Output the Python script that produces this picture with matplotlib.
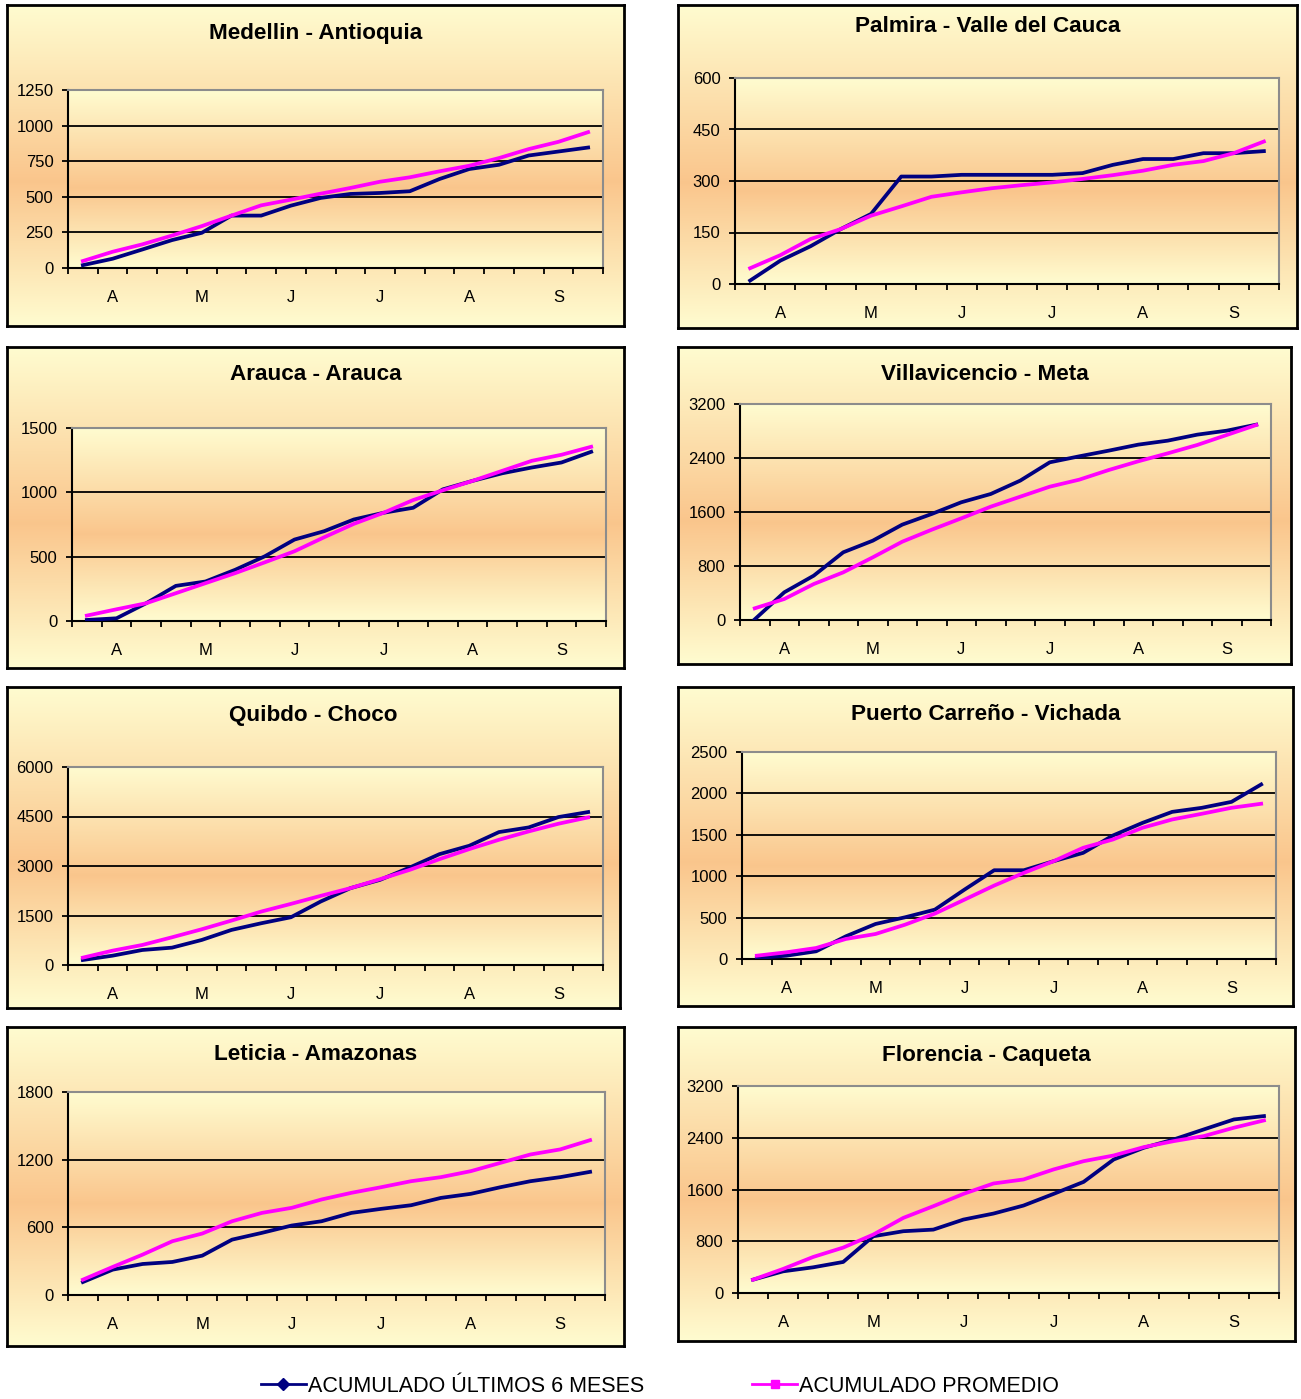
"""Acumulado ultimos 6 meses vs acumulado promedio - 8 municipios.

Grid of 8 Excel-style line charts, two series each, shared legend at the bottom.
"""

import matplotlib

matplotlib.use("Agg")

import matplotlib.pyplot as plt
import numpy as np
from matplotlib.lines import Line2D

plt.rcParams["font.family"] = ["Liberation Sans", "DejaVu Sans"]

# ---- data ----
MONTHS = ["A", "M", "J", "J", "A", "S"]
N_PERIODS = 18

medellin_ult = [20, 65, 130, 196, 247, 368, 368, 438, 492, 520, 527, 539, 625, 695, 725, 790, 818, 846]
medellin_prom = [49, 114, 166, 228, 294, 368, 440, 480, 522, 562, 606, 637, 679, 718, 772, 835, 886, 954]

palmira_ult = [10, 68, 110, 160, 204, 313, 313, 318, 318, 318, 318, 323, 347, 364, 364, 381, 381, 387]
palmira_prom = [46, 84, 131, 160, 199, 226, 254, 267, 279, 288, 296, 306, 317, 330, 347, 358, 381, 415]

arauca_ult = [8, 21, 138, 273, 307, 398, 503, 633, 698, 789, 841, 880, 1023, 1089, 1148, 1193, 1232, 1315]
arauca_prom = [42, 91, 138, 216, 294, 372, 456, 542, 651, 755, 841, 940, 1016, 1089, 1167, 1245, 1292, 1354]

villavicencio_ult = [10, 410, 657, 1003, 1175, 1413, 1571, 1744, 1867, 2065, 2336, 2425, 2509, 2598, 2657, 2746, 2805, 2894]
villavicencio_prom = [173, 311, 533, 706, 928, 1160, 1338, 1506, 1679, 1827, 1975, 2079, 2222, 2351, 2469, 2593, 2741, 2889]

quibdo_ult = [152, 283, 455, 526, 759, 1063, 1265, 1447, 1923, 2328, 2581, 2955, 3360, 3613, 4028, 4169, 4483, 4635]
quibdo_prom = [223, 435, 607, 840, 1083, 1346, 1619, 1852, 2095, 2328, 2601, 2884, 3208, 3512, 3795, 4048, 4281, 4473]

carreno_ult = [12, 40, 93, 274, 423, 504, 596, 838, 1072, 1072, 1181, 1282, 1491, 1644, 1777, 1826, 1898, 2108]
carreno_prom = [40, 81, 133, 242, 302, 415, 548, 717, 887, 1040, 1181, 1343, 1443, 1585, 1685, 1754, 1826, 1875]

leticia_ult = [115, 225, 275, 293, 349, 491, 551, 616, 654, 728, 764, 796, 861, 897, 956, 1009, 1045, 1092]
leticia_prom = [136, 249, 358, 477, 545, 654, 728, 773, 847, 906, 956, 1009, 1045, 1098, 1172, 1246, 1291, 1373]

florencia_ult = [206, 335, 397, 480, 877, 955, 980, 1135, 1228, 1352, 1532, 1718, 2064, 2245, 2374, 2529, 2683, 2735]
florencia_prom = [206, 372, 557, 702, 903, 1161, 1342, 1532, 1693, 1755, 1910, 2038, 2126, 2255, 2348, 2426, 2555, 2668]

TITLES = [
    "Medellin - Antioquia", "Palmira - Valle del Cauca",
    "Arauca - Arauca", "Villavicencio - Meta",
    "Quibdo - Choco", "Puerto Carreño - Vichada",
    "Leticia - Amazonas", "Florencia - Caqueta",
]
SERIES_ULT = [medellin_ult, palmira_ult, arauca_ult, villavicencio_ult,
              quibdo_ult, carreno_ult, leticia_ult, florencia_ult]
SERIES_PROM = [medellin_prom, palmira_prom, arauca_prom, villavicencio_prom,
               quibdo_prom, carreno_prom, leticia_prom, florencia_prom]
Y_MAX = [1250, 600, 1500, 3200, 6000, 2500, 1800, 3200]
Y_STEP = [250, 150, 500, 800, 1500, 500, 600, 800]

LABELS = ["ACUMULADO ÚLTIMOS 6 MESES", "ACUMULADO PROMEDIO"]

# ---- layout (pixels in a 1301 x 1399 canvas) ----
W, H = 1301, 1399
BOX_PX = [
    (7, 5, 624, 326), (678, 5, 1297, 328),
    (7, 347, 624, 668), (678, 347, 1291, 664),
    (7, 687, 620, 1008), (678, 687, 1293, 1006),
    (7, 1027, 624, 1346), (678, 1027, 1295, 1341),
]
PLOT_PX = [
    (68, 90, 603, 268), (735, 78, 1279, 284),
    (72, 428, 606, 621), (740, 404, 1271, 620),
    (68, 767, 603, 965), (742, 752, 1276, 959),
    (68, 1092, 605, 1295), (738, 1086, 1279, 1293),
]
TITLE_Y = [33, 27, 375, 375, 715, 715, 1055, 1055]

NAVY = "#000080"
MAGENTA = "#FF00FF"
PALE = np.array([1.0, 0.988, 0.815])
PEACH = np.array([0.98, 0.775, 0.55])


def rect(px):
    x0, y0, x1, y1 = px
    return [x0 / W, 1 - y1 / H, (x1 - x0) / W, (y1 - y0) / H]


def gradient(peak=0.55, n=256):
    t = np.linspace(0, 1, n)
    w = np.where(t < peak, t / peak, (1 - t) / (1 - peak))
    return (PALE + (PEACH - PALE) * w[:, None])[:, None, :]


fig = plt.figure(figsize=(W / 100, H / 100), dpi=100)
fig.patch.set_facecolor("white")

x = np.arange(1, N_PERIODS + 1)
for i, title in enumerate(TITLES):
    # framed chart area
    bax = fig.add_axes(rect(BOX_PX[i]), zorder=0)
    bax.imshow(gradient(), aspect="auto", extent=[0, 1, 0, 1])
    bax.set_xlim(0, 1)
    bax.set_ylim(0, 1)
    bax.set_xticks([])
    bax.set_yticks([])
    for s in bax.spines.values():
        s.set_linewidth(2)
        s.set_color("black")

    bx0, _, bx1, _ = BOX_PX[i]
    fig.text((bx0 + bx1) / 2 / W, 1 - TITLE_Y[i] / H, title,
             ha="center", va="center", fontsize=16.2, fontweight="bold")

    # plot area
    ax = fig.add_axes(rect(PLOT_PX[i]), zorder=1)
    ymax, step = Y_MAX[i], Y_STEP[i]
    ax.imshow(gradient(), aspect="auto", extent=[0.5, N_PERIODS + 0.5, 0, ymax], zorder=0)
    yt = np.arange(0, ymax + step, step)
    for y in yt[1:-1]:
        ax.axhline(y, color="black", lw=1.3, zorder=1)
    ax.plot(x, SERIES_ULT[i], color=NAVY, lw=2.7, zorder=3, solid_joinstyle="round")
    ax.plot(x, SERIES_PROM[i], color=MAGENTA, lw=2.7, zorder=4, solid_joinstyle="round")

    ax.set_xlim(0.5, N_PERIODS + 0.5)
    ax.set_ylim(0, ymax)
    ax.set_yticks(yt)
    ax.set_yticklabels([str(v) for v in yt])
    ax.set_xticks(np.arange(0.5, N_PERIODS + 1, 1))
    ax.set_xticklabels([])
    ax.set_xticks(np.arange(2, N_PERIODS + 1, 3), labels=MONTHS, minor=True)
    ax.tick_params(axis="x", which="major", direction="out", length=4.5, width=1.3)
    ax.tick_params(axis="x", which="minor", length=0, pad=15.5, labelsize=12)
    ax.tick_params(axis="y", direction="out", length=4.5, width=1.3, pad=6, labelsize=12)

    for side in ("left", "bottom"):
        ax.spines[side].set_color("black")
        ax.spines[side].set_linewidth(1.5)
    for side in ("top", "right"):
        ax.spines[side].set_color("#8c8c8c")
        ax.spines[side].set_linewidth(1.5)

handles = [
    Line2D([], [], color=NAVY, lw=2, marker="D", ms=6),
    Line2D([], [], color=MAGENTA, lw=2, marker="s", ms=6),
]
fig.legend(handles, LABELS, loc="center", bbox_to_anchor=(660 / W, 1 - 1386 / H),
           ncol=2, frameon=False, fontsize=15.5, handlelength=2.1,
           handletextpad=0.1, columnspacing=5.0)

fig.savefig("out.png", dpi=100)
